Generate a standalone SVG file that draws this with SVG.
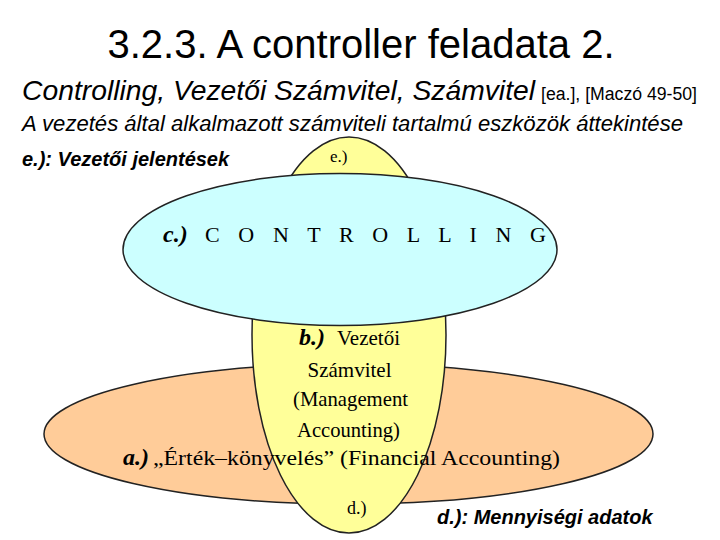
<svg xmlns="http://www.w3.org/2000/svg" width="720" height="540" viewBox="0 0 720 540">
<style>
.sans{font-family:"Liberation Sans",Arial,sans-serif;fill:#000}
.serif{font-family:"Liberation Serif","Times New Roman",serif;fill:#000}
.bi{font-weight:bold;font-style:italic}
.it{font-style:italic}
.shape{stroke:#222;stroke-width:1.5}
</style>
<rect width="720" height="540" fill="#fff"/>
<g id="header">
<text class="sans" x="361" y="58" font-size="40" text-anchor="middle">3.2.3. A controller feladata 2.</text>
<text class="sans" y="100"><tspan class="it" x="22" font-size="28" textLength="513" lengthAdjust="spacingAndGlyphs">Controlling, Vezetői Számvitel, Számvitel</tspan><tspan x="541" font-size="18" textLength="156" lengthAdjust="spacingAndGlyphs">[ea.], [Maczó 49-50]</tspan></text>
<text class="sans it" x="22" y="131" font-size="22" textLength="661" lengthAdjust="spacingAndGlyphs">A vezetés által alkalmazott számviteli tartalmú eszközök áttekintése</text>
<text class="sans bi" x="22" y="166" font-size="20">e.): Vezetői jelentések</text>
<text class="sans bi" x="437" y="524" font-size="20">d.): Mennyiségi adatok</text>
</g>
<g id="connectors"/>
<g id="node-a">
<ellipse class="shape" cx="348.5" cy="434" rx="304.5" ry="70" fill="#FFCC99"/>
</g>
<g id="node-b">
<ellipse class="shape" cx="349" cy="335" rx="97" ry="198" fill="#FFFF99"/>
<text class="serif" x="330" y="162" font-size="17">e.)</text>
<text class="serif" y="345" font-size="21"><tspan class="bi" x="299" font-size="24">b.)</tspan><tspan x="337">Vezetői</tspan></text>
<text class="serif" x="349.5" y="377" font-size="21" text-anchor="middle">Számvitel</text>
<text class="serif" x="293" y="406" font-size="21" textLength="115" lengthAdjust="spacingAndGlyphs">(Management</text>
<text class="serif" x="297" y="437" font-size="21" textLength="103" lengthAdjust="spacingAndGlyphs">Accounting)</text>
<text class="serif" x="347" y="514" font-size="18">d.)</text>
</g>
<g id="node-c">
<ellipse class="shape" cx="340" cy="249.5" rx="217" ry="76" fill="#CCFFFF"/>
<text class="serif bi" x="163" y="242" font-size="24">c.)</text>
<text class="serif" x="205" y="242" font-size="22" letter-spacing="6.6">C O N T R O L L I N G</text>
</g>
<g id="node-a-label">
<text class="serif" y="465" font-size="22"><tspan class="bi" x="123" font-size="24">a.)</tspan><tspan x="153" textLength="407" lengthAdjust="spacingAndGlyphs">„Érték–könyvelés” (Financial Accounting)</tspan></text>
</g>
</svg>
